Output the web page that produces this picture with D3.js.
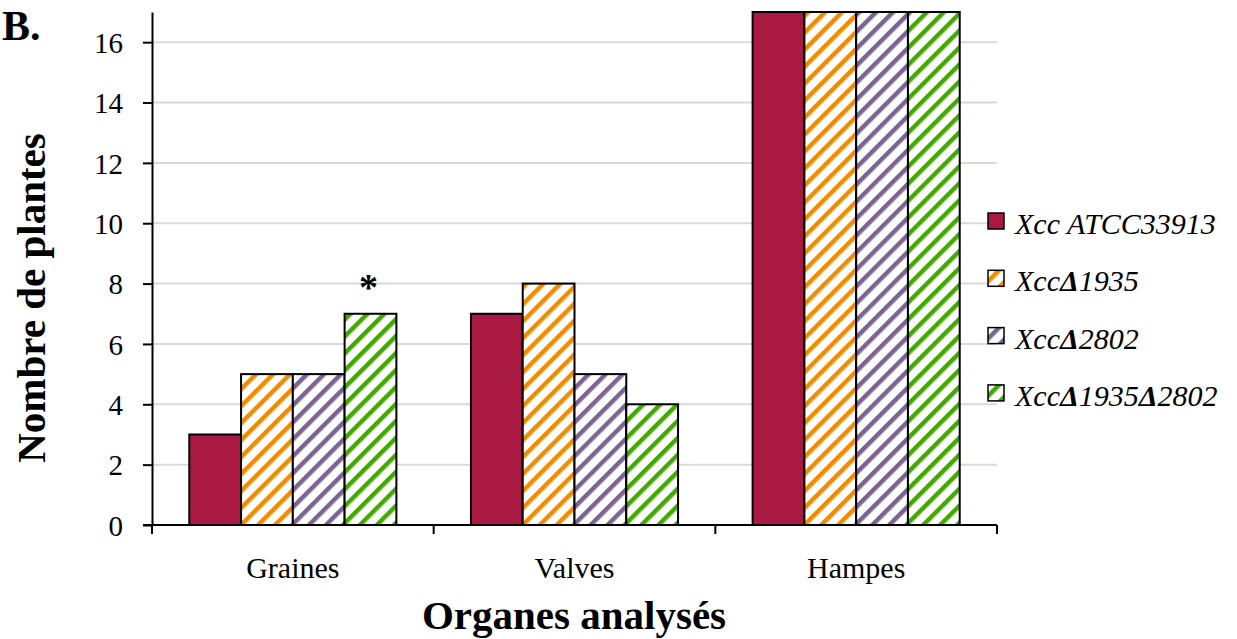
<!DOCTYPE html>
<html><head><meta charset="utf-8">
<script src="https://cdn.jsdelivr.net/npm/d3@7"></script>
<style>body{margin:0;background:#fff}svg{display:block}text{font-family:"Liberation Serif","DejaVu Serif",serif}</style>
</head><body><svg id="c" width="1237" height="639"></svg>
<script>
const categories = ["Graines", "Valves", "Hampes"];
const seriesNames = ["Xcc ATCC33913", "XccΔ1935", "XccΔ2802", "XccΔ1935Δ2802"];
const seriesColors = ["#A91941", "#F08C00", "#7B6590", "#43A800"];
const seriesValues = [
  [3, 7, 17],
  [5, 8, 17],
  [5, 5, 17],
  [7, 4, 17]
];
const yTicks = [0, 2, 4, 6, 8, 10, 12, 14, 16];
const yMax = 17;
const annotations = [{category: "Graines", series: 3, text: "*"}];

const svg = d3.select("#c");
const L = 152, R = 997, T = 12, B = 525;

const defs = svg.append("defs");
seriesColors.forEach((c, i) => {
  if (i === 0) return;
  const p = defs.append("pattern").attr("id", "hatch" + i)
    .attr("patternUnits", "userSpaceOnUse").attr("width", 12).attr("height", 12)
    .attr("patternTransform", "rotate(45)");
  p.append("rect").attr("width", 12).attr("height", 12).attr("fill", "#fff");
  p.append("rect").attr("x", 0).attr("width", 4.5).attr("height", 12).attr("fill", c);
});
const fillFor = i => i === 0 ? seriesColors[0] : `url(#hatch${i})`;

const x0 = d3.scaleBand().domain(categories).range([L, R]).paddingInner(0).paddingOuter(0);
const x1 = d3.scaleBand().domain(d3.range(seriesNames.length)).range([0, x0.bandwidth()]).paddingInner(0).paddingOuter(0.72);
const y = d3.scaleLinear().domain([0, yMax]).range([B, T]);

// gridlines
svg.append("g").selectAll("line").data(yTicks.filter(d => d > 0)).join("line")
  .attr("x1", L).attr("x2", R).attr("y1", d => y(d)).attr("y2", d => y(d))
  .attr("stroke", "#d9d9d9").attr("stroke-width", 2);

// bars
const groups = svg.append("g").selectAll("g").data(categories).join("g")
  .attr("transform", d => `translate(${x0(d)},0)`);
groups.selectAll("rect").data((c, ci) => seriesValues.map((vals, si) => ({si, v: vals[ci]}))).join("rect")
  .attr("x", d => x1(d.si)).attr("width", x1.bandwidth())
  .attr("y", d => y(d.v)).attr("height", d => y(0) - y(d.v))
  .attr("fill", d => fillFor(d.si)).attr("stroke", "#000").attr("stroke-width", 2);

// annotations
annotations.forEach(a => {
  const ci = categories.indexOf(a.category);
  svg.append("text").attr("x", x0(a.category) + x1(a.series) + x1.bandwidth() / 2 - 2)
    .attr("y", y(seriesValues[a.series][ci]) - 14)
    .attr("text-anchor", "middle").attr("font-size", 38).attr("font-weight", "bold").text(a.text);
});

// y axis
const yAxis = svg.append("g").attr("transform", `translate(${L},0)`)
  .call(d3.axisLeft(y).tickValues(yTicks).tickSize(9).tickSizeOuter(0).tickPadding(20));
yAxis.select(".domain").attr("stroke", "#000").attr("stroke-width", 2);
yAxis.selectAll(".tick line").attr("stroke", "#000").attr("stroke-width", 2);
yAxis.selectAll(".tick text").attr("font-size", 29).attr("font-family", "Liberation Serif").attr("fill", "#000").attr("dy", "0.35em");

// x axis
const xAxis = svg.append("g").attr("transform", `translate(0,${B})`)
  .call(d3.axisBottom(x0).tickSize(0).tickSizeOuter(0).tickPadding(30));
xAxis.select(".domain").remove();
xAxis.selectAll(".tick text").attr("font-size", 30).attr("font-family", "Liberation Serif").attr("fill", "#000").attr("dy", "0.75em");
const bounds = categories.map(c => x0(c)).concat([R]);
svg.append("line").attr("x1", L - 9).attr("x2", R).attr("y1", B).attr("y2", B).attr("stroke", "#000").attr("stroke-width", 2);
svg.append("g").selectAll("line").data(bounds).join("line")
  .attr("x1", d => d).attr("x2", d => d).attr("y1", B).attr("y2", B + 9)
  .attr("stroke", "#000").attr("stroke-width", 2);

// titles
svg.append("text").attr("x", 574).attr("y", 629).attr("text-anchor", "middle")
  .attr("font-size", 41).attr("font-weight", "bold").text("Organes analysés");
svg.append("text").attr("transform", "translate(45,298) rotate(-90)").attr("text-anchor", "middle")
  .attr("font-size", 41).attr("font-weight", "bold").text("Nombre de plantes");
svg.append("text").attr("x", 2).attr("y", 40).attr("font-size", 42).attr("font-weight", "bold").text("B.");

// legend
const lg = svg.append("g").selectAll("g").data(seriesNames).join("g")
  .attr("transform", (d, i) => `translate(988,${221 + i * 57.3})`);
lg.append("rect").attr("x", 0).attr("y", -8).attr("width", 16).attr("height", 16)
  .attr("fill", (d, i) => fillFor(i)).attr("stroke", "#000").attr("stroke-width", 1.5);
lg.append("text").attr("x", 27).attr("y", 13).attr("font-size", 30).attr("font-style", "italic")
  .each(function(d) {
    const t = d3.select(this);
    d.split(/(Δ)/).forEach(part => {
      if (!part) return;
      const s = t.append("tspan").text(part);
      if (part === "Δ") s.attr("font-weight", "bold");
    });
  });
</script></body></html>
